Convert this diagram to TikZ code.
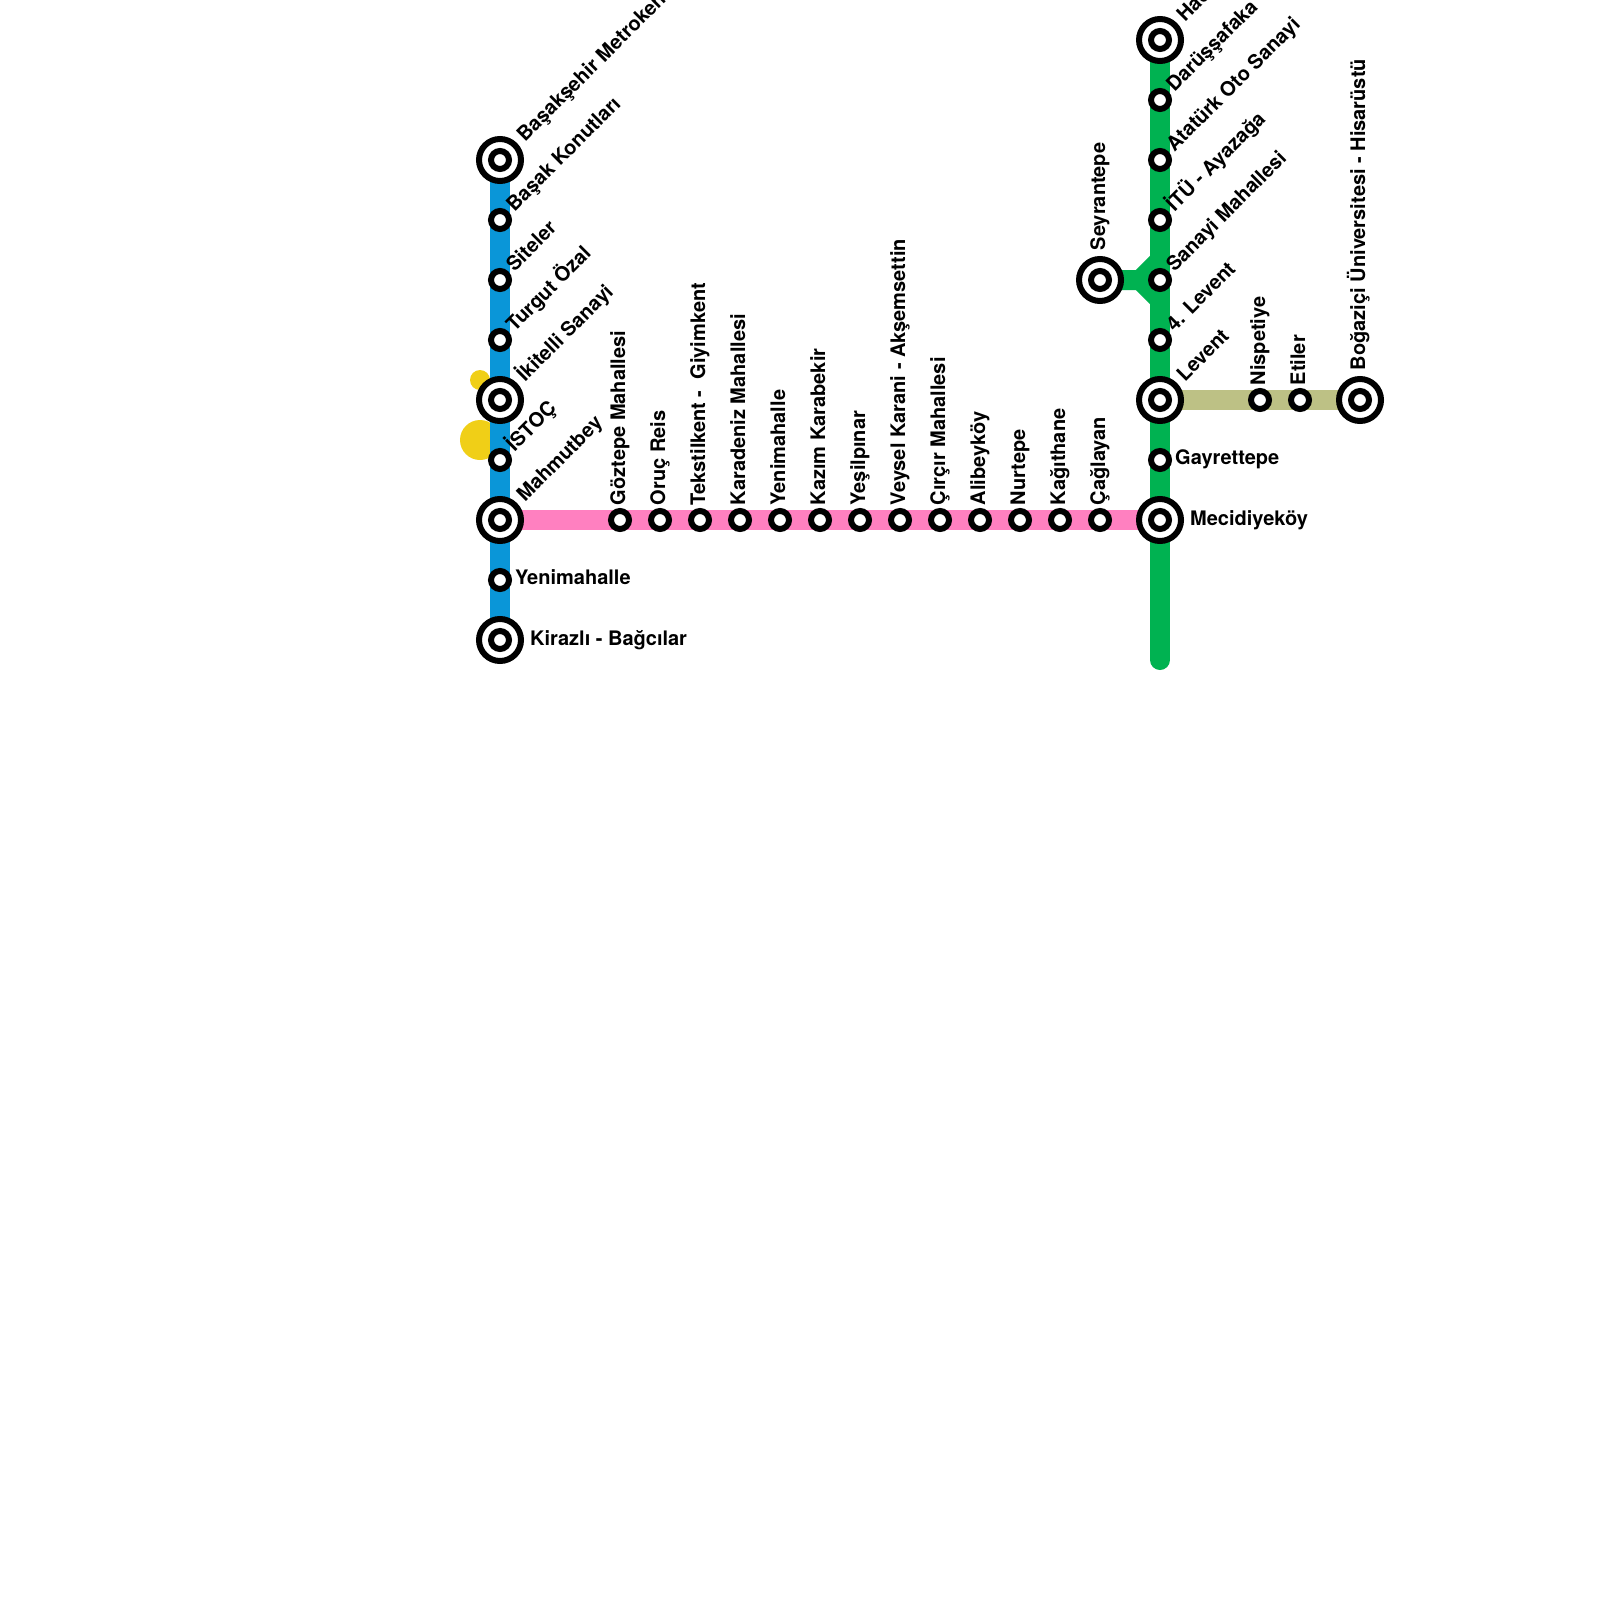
\documentclass[tikz,border=0pt]{standalone}
\usepackage{fontspec}
\setmainfont{TeX Gyre Heros}
\usetikzlibrary{backgrounds}
\definecolor{lblue}{HTML}{0A96D8}
\definecolor{lgreen}{HTML}{00B251}
\definecolor{lpink}{HTML}{FF80C0}
\definecolor{lolive}{HTML}{BDC185}
\definecolor{lyellow}{HTML}{F0CF17}
\tikzset{
 smallstn/.style={circle,draw=black,fill=white,line width=6pt,minimum size=18pt,inner sep=0pt,outer sep=0pt},
 bigstn/.style={circle,draw=black,fill=white,line width=6pt,minimum size=42pt,inner sep=0pt,outer sep=0pt},
 route/.style={line width=20pt,line cap=round,line join=round},
 routeflat/.style={line width=20pt,line cap=butt},
 lab/.style={inner sep=0pt,outer sep=0pt,anchor=base west,font=\fontsize{20}{24}\selectfont\bfseries,text=black},
 d/.style={lab,rotate=45},
 v/.style={lab,rotate=90},
 h/.style={lab},
}
\newcommand{\termstn}[2]{\node[bigstn] (#1) at (#2) {};\node[smallstn] (#1i) at (#2) {};}
\newcommand{\stn}[2]{\node[smallstn] (#1) at (#2) {};}
\begin{document}
\begin{tikzpicture}[x=1pt,y=-1pt]
\useasboundingbox (0,0) rectangle (1600,1600);
\clip (0,0) rectangle (1600,1600);
% blue line
\termstn{b1}{500,160}
\stn{b2}{500,220}
\stn{b3}{500,280}
\stn{b4}{500,340}
\termstn{b5}{500,400}
\stn{b6}{500,460}
\termstn{b7}{500,520}
\stn{b8}{500,580}
\termstn{b9}{500,640}
% pink line
\stn{p1}{620,520}
\stn{p2}{660,520}
\stn{p3}{700,520}
\stn{p4}{740,520}
\stn{p5}{780,520}
\stn{p6}{820,520}
\stn{p7}{860,520}
\stn{p8}{900,520}
\stn{p9}{940,520}
\stn{p10}{980,520}
\stn{p11}{1020,520}
\stn{p12}{1060,520}
\stn{p13}{1100,520}
% green line
\termstn{g1}{1160,40}
\stn{g2}{1160,100}
\stn{g3}{1160,160}
\stn{g4}{1160,220}
\stn{g5}{1160,280}
\stn{g6}{1160,340}
\termstn{g7}{1160,400}
\stn{g8}{1160,460}
\termstn{g9}{1160,520}
\coordinate (gend) at (1160,660);
\termstn{s1}{1100,280}
\coordinate (sj) at (1140,280);
\coordinate (su) at (1160,260);
\coordinate (sd) at (1160,300);
% olive line
\stn{o1}{1260,400}
\stn{o2}{1300,400}
\termstn{o3}{1360,400}
% routes behind
\begin{scope}[on background layer]
\fill[lyellow] (480,380) circle[radius=10pt];
\fill[lyellow] (480,440) circle[radius=20pt];
\draw[routeflat,lblue] (b1.center) -- (b9.center);
\draw[routeflat,lpink] (b7.center) -- (g9.center);
\draw[routeflat,lolive] (g7.center) -- (o3.center);
\draw[routeflat,lgreen] (s1.center) -- (sj) -- (su);
\draw[routeflat,lgreen] (sj) -- (sd);
\draw[route,lgreen] (g1.center) -- (gend);
\end{scope}
% labels
\node[d] (lb1) at (525,142.5) {Başakşehir Metrokent};
\node[d] (lb2) at (514.5,212.5) {Başak Konutları};
\node[d] (lb3) at (514.5,272.5) {Siteler};
\node[d] (lb4) at (514.5,332.5) {Turgut Özal};
\node[d] (lb5) at (525,382.5) {İkitelli Sanayi};
\node[d] (lb6) at (514.5,452.5) {İSTOÇ};
\node[d] (lb7) at (525,502.5) {Mahmutbey};
\node[h] (lb8) at (515.2,584.5) {Yenimahalle};
\node[h] (lb9) at (530.2,645) {Kirazlı - Bağcılar};
\node[v] (lp1) at (625,505.2) {Göztepe Mahallesi};
\node[v] (lp2) at (665,505.2) {Oruç Reis};
\node[v] (lp3) at (705,505.2) {Tekstilkent -\ \ Giyimkent};
\node[v] (lp4) at (745,505.2) {Karadeniz Mahallesi};
\node[v] (lp5) at (785,505.2) {Yenimahalle};
\node[v] (lp6) at (825,505.2) {Kazım Karabekir};
\node[v] (lp7) at (865,505.2) {Yeşilpınar};
\node[v] (lp8) at (905,505.2) {Veysel Karani - Akşemsettin};
\node[v] (lp9) at (945,505.2) {Çırçır Mahallesi};
\node[v] (lp10) at (985,505.2) {Alibeyköy};
\node[v] (lp11) at (1025,505.2) {Nurtepe};
\node[v] (lp12) at (1065,505.2) {Kağıthane};
\node[v] (lp13) at (1105,505.2) {Çağlayan};
\node[d] (lg1) at (1185,22.5) {Hacıosman};
\node[d] (lg2) at (1174.5,92.5) {Darüşşafaka};
\node[d] (lg3) at (1174.5,152.5) {Atatürk Oto Sanayi};
\node[d] (lg4) at (1174.5,212.5) {İTÜ - Ayazağa};
\node[d] (lg5) at (1174.5,272.5) {Sanayi Mahallesi};
\node[d] (lg6) at (1174.5,332.5) {4. Levent};
\node[d] (lg7) at (1185,382.5) {Levent};
\node[h] (lg8) at (1175.2,464.5) {Gayrettepe};
\node[h] (lg9) at (1190.2,525) {Mecidiyeköy};
\node[v] (ls1) at (1105,250.2) {Seyrantepe};
\node[v] (lo1) at (1265,385.2) {Nispetiye};
\node[v] (lo2) at (1305,385.2) {Etiler};
\node[v] (lo3) at (1365,370.2) {Boğaziçi Üniversitesi - Hisarüstü};
\end{tikzpicture}
\end{document}
